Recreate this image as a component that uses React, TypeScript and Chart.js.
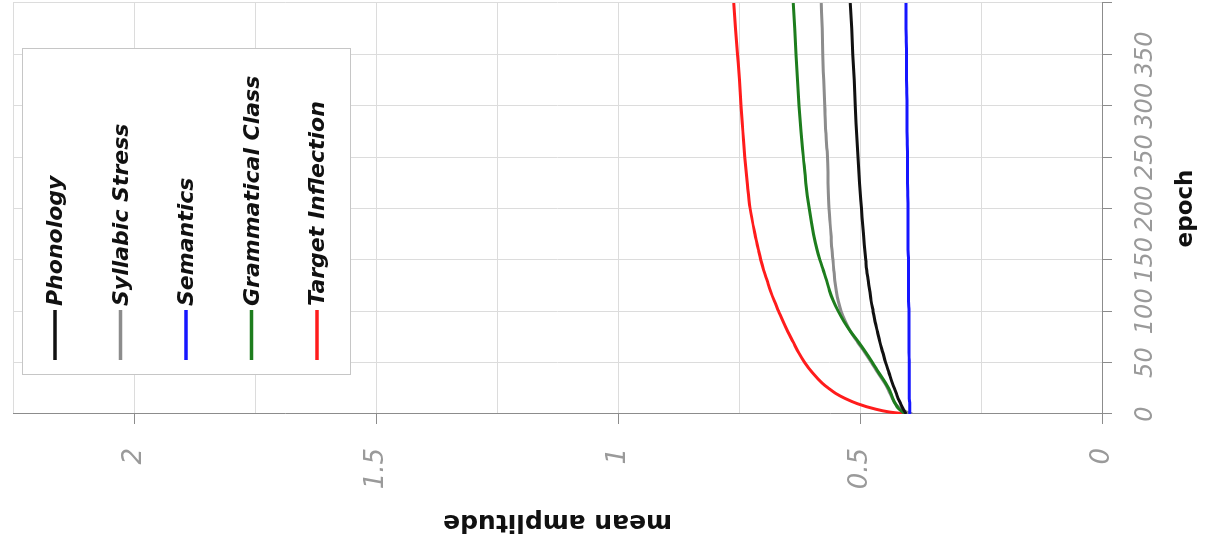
import React, { useEffect, useRef } from 'react';
import { Chart, registerables } from 'chart.js';

Chart.register(...registerables);

// Training epochs at which the mean amplitude was sampled
const EPOCHS = [0, 2, 5, 10, 15, 20, 25, 30, 40, 50, 60, 70, 80, 90, 100, 110, 120, 130, 140, 150, 160, 175, 200, 225, 250, 275, 300, 325, 350, 375, 400];

const PHONOLOGY = [0.405, 0.407, 0.411, 0.416, 0.421, 0.425, 0.429, 0.433, 0.440, 0.447, 0.453, 0.459, 0.464, 0.469, 0.473, 0.477, 0.480, 0.483, 0.486, 0.488, 0.490, 0.493, 0.497, 0.501, 0.504, 0.507, 0.510, 0.512, 0.515, 0.517, 0.520];
const SYLLABIC_STRESS = [0.392, 0.404, 0.416, 0.427, 0.433, 0.438, 0.443, 0.449, 0.463, 0.476, 0.490, 0.505, 0.519, 0.530, 0.539, 0.545, 0.549, 0.552, 0.554, 0.556, 0.558, 0.560, 0.564, 0.566, 0.567, 0.571, 0.573, 0.575, 0.577, 0.578, 0.580];
const SEMANTICS = [0.397, 0.397, 0.397, 0.397, 0.398, 0.398, 0.398, 0.398, 0.398, 0.398, 0.399, 0.399, 0.399, 0.399, 0.399, 0.400, 0.400, 0.400, 0.400, 0.400, 0.401, 0.401, 0.401, 0.402, 0.402, 0.403, 0.403, 0.404, 0.404, 0.405, 0.405];
const GRAMMATICAL_CLASS = [0.405, 0.412, 0.420, 0.427, 0.432, 0.436, 0.441, 0.447, 0.461, 0.474, 0.488, 0.503, 0.519, 0.533, 0.545, 0.555, 0.563, 0.569, 0.576, 0.583, 0.589, 0.596, 0.605, 0.612, 0.617, 0.622, 0.626, 0.629, 0.632, 0.635, 0.638];
const TARGET_INFLECTION = [0.405, 0.440, 0.470, 0.505, 0.530, 0.550, 0.565, 0.578, 0.598, 0.614, 0.627, 0.638, 0.649, 0.659, 0.668, 0.677, 0.685, 0.692, 0.699, 0.705, 0.710, 0.717, 0.727, 0.733, 0.738, 0.742, 0.746, 0.749, 0.753, 0.757, 0.761];

const SERIES_LABELS = ['Phonology', 'Syllabic Stress', 'Semantics', 'Grammatical Class', 'Target Inflection'];
const SERIES_VALUES = [PHONOLOGY, SYLLABIC_STRESS, SEMANTICS, GRAMMATICAL_CLASS, TARGET_INFLECTION];
const SERIES_COLORS = ['#111111', '#8c8c8c', '#1616ff', '#1d7d1d', '#ff1c1c'];
const SERIES_ORDER = [0, 1, 0, 0, 0];

// Labelled tick positions on each axis
const EPOCH_TICK_LABELS = [0, 50, 100, 150, 200, 250, 300, 350];
const AMPLITUDE_TICK_LABELS = [0, 0.5, 1, 1.5, 2];

const FONT = '"DejaVu Sans", sans-serif';
const AXIS_GRAY = '#8c8c8c';
const GRID_GRAY = '#dcdcdc';
const LABEL_GRAY = '#9a9a9a';

const isLabelled = (list: number[], v: number) => list.some((t) => Math.abs(t - v) < 1e-9);

// Framed legend drawn inside the plot area, above the grid lines
const framedLegend = {
  id: 'framedLegend',
  beforeDatasetsDraw(chart: any, _args: any, opts: any) {
    const { ctx, chartArea } = chart;
    const left = chartArea.right - opts.offsetRight - opts.width;
    const top = chartArea.top + opts.offsetTop;
    ctx.save();
    ctx.fillStyle = '#ffffff';
    ctx.fillRect(left, top, opts.width, opts.height);
    ctx.strokeStyle = '#c6c6c6';
    ctx.lineWidth = 1;
    ctx.strokeRect(Math.round(left) + 0.5, Math.round(top) + 0.5, opts.width, opts.height);
    ctx.font = opts.font;
    ctx.textBaseline = 'alphabetic';
    ctx.textAlign = 'left';
    chart.data.datasets.forEach((ds: any, i: number) => {
      const y = top + opts.firstRow + i * opts.rowGap;
      const x0 = left + opts.sampleStart;
      ctx.strokeStyle = ds.borderColor;
      ctx.lineWidth = 3.5;
      ctx.beginPath();
      ctx.moveTo(x0, y);
      ctx.lineTo(x0 + opts.sampleLength, y);
      ctx.stroke();
      ctx.fillStyle = '#111111';
      ctx.fillText(ds.label, x0 + opts.sampleLength + opts.textGap, y + opts.baselineShift);
    });
    ctx.restore();
  },
};

export default function App() {
  const canvasRef = useRef<HTMLCanvasElement | null>(null);

  useEffect(() => {
    const canvas = canvasRef.current;
    if (!canvas) return;

    const datasets = SERIES_LABELS.map((label, s) => ({
      label,
      data: EPOCHS.map((e, i) => ({ x: e, y: SERIES_VALUES[s][i] })),
      borderColor: SERIES_COLORS[s],
      backgroundColor: SERIES_COLORS[s],
      borderWidth: 3,
      pointRadius: 0,
      cubicInterpolationMode: 'monotone' as const,
      fill: false,
      order: SERIES_ORDER[s],
    }));

    const chart = new Chart(canvas, {
      type: 'line',
      data: { datasets },
      plugins: [framedLegend],
      options: {
        animation: false,
        responsive: false,
        devicePixelRatio: 1,
        layout: { padding: { top: 13, right: 3, left: 0, bottom: 0 } },
        plugins: {
          legend: { display: false },
          tooltip: { enabled: false },
          framedLegend: {
            width: 326,
            height: 328,
            offsetRight: 46,
            offsetTop: 9,
            firstRow: 33,
            rowGap: 65.5,
            sampleStart: 15,
            sampleLength: 50,
            textGap: 4,
            baselineShift: 7,
            font: `italic bold 22px ${FONT}`,
          },
        } as any,
        scales: {
          x: {
            type: 'linear',
            position: 'bottom',
            min: 0,
            max: 400,
            afterFit: (scale: any) => {
              scale.height = 103;
              scale.paddingLeft = 0;
              scale.paddingRight = 0;
            },
            ticks: {
              stepSize: 50,
              autoSkip: false,
              maxRotation: 0,
              minRotation: 0,
              padding: 19,
              color: LABEL_GRAY,
              font: { family: FONT, size: 24, style: 'italic' },
              callback: (v: any) => (isLabelled(EPOCH_TICK_LABELS, Number(v)) ? String(v) : ''),
            },
            grid: { color: GRID_GRAY, lineWidth: 1, tickLength: 10, tickColor: AXIS_GRAY },
            border: { color: AXIS_GRAY, width: 1 },
            title: {
              display: true,
              text: 'epoch',
              color: '#111111',
              font: { family: FONT, size: 23, weight: 'bold' },
              padding: { top: 0, bottom: 5 },
            },
          },
          y: {
            type: 'linear',
            position: 'left',
            min: 0,
            max: 2.25,
            afterFit: (scale: any) => {
              scale.width = 133;
              scale.paddingTop = 0;
              scale.paddingBottom = 0;
            },
            ticks: {
              stepSize: 0.25,
              autoSkip: false,
              padding: 24,
              color: LABEL_GRAY,
              font: { family: FONT, size: 26, style: 'italic' },
              callback: (v: any) => (isLabelled(AMPLITUDE_TICK_LABELS, Number(v)) ? String(v) : ''),
            },
            grid: {
              color: GRID_GRAY,
              lineWidth: 1,
              tickLength: 10,
              tickColor: (ctx: any) =>
                ctx.tick && isLabelled(AMPLITUDE_TICK_LABELS, ctx.tick.value) ? AXIS_GRAY : 'rgba(0,0,0,0)',
            },
            border: { color: AXIS_GRAY, width: 1 },
            title: {
              display: true,
              text: 'mean amplitude',
              color: '#111111',
              font: { family: FONT, size: 25, weight: 'bold' },
              padding: { top: 10, bottom: 0 },
            },
          },
        },
      },
    });

    return () => chart.destroy();
  }, []);

  return (
    <div
      style={{
        position: 'fixed',
        left: 0,
        top: 0,
        width: 1205,
        height: 547,
        overflow: 'hidden',
        background: '#ffffff',
      }}
    >
      <div
        style={{
          position: 'absolute',
          left: 0,
          top: 0,
          width: 547,
          height: 1205,
          transformOrigin: '0 0',
          transform: 'translateY(547px) rotate(-90deg)',
        }}
      >
        <canvas ref={canvasRef} width={547} height={1205} style={{ display: 'block', width: 547, height: 1205 }} />
      </div>
    </div>
  );
}
